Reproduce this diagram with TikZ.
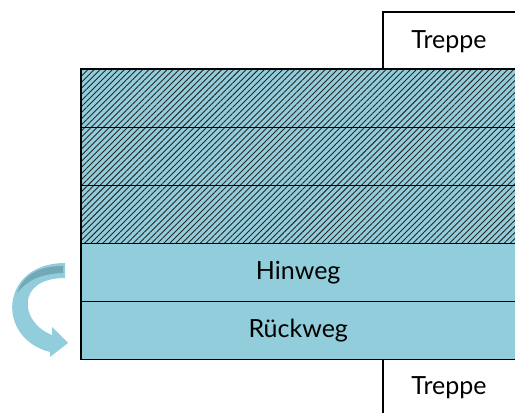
\documentclass[tikz,border=0pt]{standalone}
\usepackage{fontspec}
\setmainfont{Lato}
\usetikzlibrary{patterns.meta}
\definecolor{hall}{HTML}{92CDDC}
\definecolor{halldark}{HTML}{72A9B6}
\begin{document}
\begin{tikzpicture}[x=1pt,y=1pt,
  rowbox/.style={fill=hall,minimum width=434pt,minimum height=58pt,inner sep=0pt,anchor=north west,
    font=\fontsize{25}{30}\selectfont},
  hatched/.style={rowbox,postaction={pattern={Lines[angle=45,distance=4.3pt,line width=0.9pt]},pattern color=black!85}},
  label/.style={font=\fontsize{25}{30}\selectfont,inner sep=0pt}]
\useasboundingbox (0,0) rectangle (515,413);
% storey rows, counted from the top
\node[hatched] (r1) at (81,344) {};
\node[hatched] (r2) at (81,286) {};
\node[hatched] (r3) at (81,228) {};
\node[rowbox] (r4) at (81,170) {Hinweg};
\node[rowbox] (r5) at (81,112) {Rückweg};
% outlines of the rows (open on the right)
\draw[line width=1.5pt] (r1.north east) -- (r1.north west) -- (r5.south west) -- (r5.south east);
\foreach \r in {r1,r2,r3,r4}
  \draw[line width=1.5pt] (\r.south west) -- (\r.south east);
% stairs
\coordinate (t1) at (383,401);
\coordinate (t2) at (515,401);
\draw[line width=1.5pt] (r1.north west -| t1) -- (t1) -- (t2);
\node[label] (treppeO) at (449,371) {Treppe};
\coordinate (b1) at (383,0);
\draw[line width=1.5pt] (r5.south west -| b1) -- (b1);
\node[label] (treppeU) at (449,25) {Treppe};
% turning arrow
\fill[hall] (65,150) .. controls (0,150) and (-5,75) .. (50,61)
  -- (50,56) -- (68,70) -- (52,86) -- (52,78)
  .. controls (20,90) and (15,135) .. (65,135) -- cycle;
\fill[halldark] (63,147) .. controls (35,147) and (22,135) .. (17,120)
  .. controls (28,133) and (40,139) .. (63,140) -- cycle;
\end{tikzpicture}
\end{document}
